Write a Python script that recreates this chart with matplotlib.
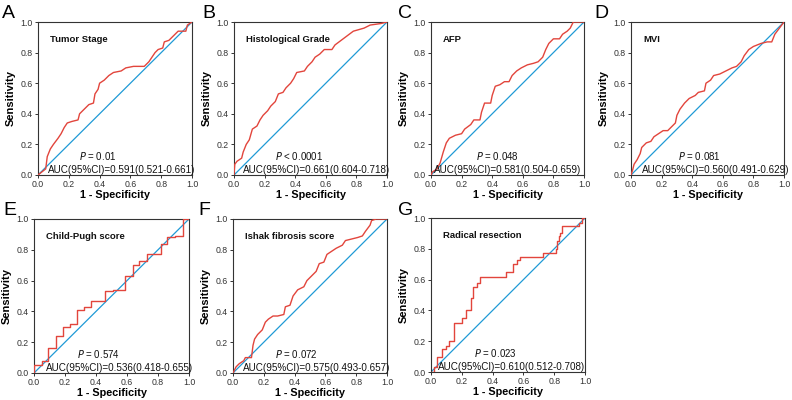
import matplotlib
matplotlib.use("Agg")
import matplotlib.pyplot as plt

plt.rcParams['font.family'] = ['Liberation Sans', 'DejaVu Sans']

letters = ["A", "B", "C", "D", "E", "F", "G"]
titles = ["Tumor Stage", "Histological Grade", "AFP", "MVI",
          "Child-Pugh score", "Ishak fibrosis score", "Radical resection"]
p_texts = ["= 0.01", "< 0.0001", "= 0.048", "= 0.081", "= 0.574", "= 0.072", "= 0.023"]
auc_texts = ["AUC(95%CI)=0.591(0.521-0.661)", "AUC(95%CI)=0.661(0.604-0.718)",
             "AUC(95%CI)=0.581(0.504-0.659)", "AUC(95%CI)=0.560(0.491-0.629)",
             "AUC(95%CI)=0.536(0.418-0.655)", "AUC(95%CI)=0.575(0.493-0.657)",
             "AUC(95%CI)=0.610(0.512-0.708)"]

fpr_A = [0, 0.05, 0.06, 0.08, 0.10, 0.13, 0.15, 0.17, 0.19, 0.22, 0.26, 0.27, 0.30, 0.33, 0.36,
         0.37, 0.39, 0.40, 0.43, 0.46, 0.49, 0.54, 0.57, 0.62, 0.69, 0.72, 0.74, 0.76, 0.78, 0.81,
         0.82, 0.85, 0.88, 0.91, 0.96, 0.97, 1.0]
tpr_A = [0, 0.04, 0.12, 0.17, 0.20, 0.24, 0.27, 0.31, 0.34, 0.35, 0.36, 0.40, 0.43, 0.46, 0.47,
         0.53, 0.56, 0.60, 0.62, 0.65, 0.67, 0.68, 0.70, 0.71, 0.71, 0.74, 0.77, 0.80, 0.82, 0.83,
         0.87, 0.88, 0.91, 0.94, 0.94, 0.98, 1.0]

fpr_B = [0, 0.005, 0.02, 0.05, 0.06, 0.08, 0.10, 0.12, 0.15, 0.17, 0.19, 0.22, 0.24, 0.27, 0.29,
         0.32, 0.34, 0.37, 0.39, 0.41, 0.46, 0.48, 0.51, 0.53, 0.56, 0.59, 0.64, 0.66, 0.70, 0.74,
         0.78, 0.85, 0.89, 0.96, 1.0]
tpr_B = [0, 0.07, 0.09, 0.11, 0.15, 0.20, 0.23, 0.30, 0.32, 0.36, 0.39, 0.42, 0.45, 0.48, 0.53,
         0.54, 0.57, 0.60, 0.63, 0.67, 0.68, 0.71, 0.74, 0.77, 0.79, 0.82, 0.82, 0.85, 0.88, 0.91,
         0.94, 0.96, 0.98, 0.99, 1.0]

fpr_C = [0, 0.01, 0.04, 0.06, 0.08, 0.10, 0.12, 0.16, 0.20, 0.22, 0.26, 0.28, 0.32, 0.33, 0.35,
         0.39, 0.40, 0.42, 0.45, 0.48, 0.51, 0.53, 0.56, 0.59, 0.63, 0.67, 0.70, 0.73, 0.75, 0.77,
         0.80, 0.84, 0.86, 0.89, 0.91, 0.93, 1.0]
tpr_C = [0, 0.02, 0.04, 0.08, 0.15, 0.21, 0.24, 0.26, 0.27, 0.30, 0.33, 0.36, 0.36, 0.41, 0.47,
         0.47, 0.52, 0.58, 0.59, 0.61, 0.61, 0.65, 0.68, 0.70, 0.72, 0.73, 0.74, 0.77, 0.82, 0.86,
         0.89, 0.89, 0.92, 0.94, 0.96, 1.0, 1.0]

fpr_D = [0, 0.01, 0.02, 0.04, 0.06, 0.07, 0.10, 0.13, 0.15, 0.18, 0.21, 0.24, 0.27, 0.29, 0.30,
         0.32, 0.35, 0.38, 0.42, 0.44, 0.48, 0.49, 0.52, 0.54, 0.58, 0.62, 0.66, 0.69, 0.72, 0.74,
         0.77, 0.80, 0.85, 0.89, 0.92, 0.94, 0.97, 1.0]
tpr_D = [0, 0.03, 0.07, 0.10, 0.14, 0.18, 0.21, 0.22, 0.25, 0.27, 0.29, 0.29, 0.32, 0.34, 0.39,
         0.43, 0.47, 0.50, 0.52, 0.54, 0.55, 0.60, 0.62, 0.65, 0.66, 0.68, 0.70, 0.71, 0.74, 0.78,
         0.82, 0.84, 0.86, 0.87, 0.87, 0.92, 0.96, 1.0]

fpr_E = [0, 0, 0.05, 0.09, 0.14, 0.19, 0.23, 0.28, 0.32, 0.37, 0.46, 0.51, 0.59, 0.64, 0.68,
         0.73, 0.82, 0.86, 0.91, 0.96, 1.0]
tpr_E = [0, 0.05, 0.08, 0.16, 0.24, 0.30, 0.32, 0.41, 0.43, 0.47, 0.53, 0.54, 0.63, 0.70, 0.73,
         0.77, 0.84, 0.88, 0.89, 1.0, 1.0]

fpr_F = [0, 0.02, 0.04, 0.07, 0.08, 0.12, 0.13, 0.14, 0.16, 0.19, 0.21, 0.23, 0.26, 0.29, 0.33,
         0.34, 0.37, 0.39, 0.42, 0.46, 0.48, 0.51, 0.54, 0.56, 0.59, 0.61, 0.64, 0.67, 0.71, 0.73,
         0.77, 0.81, 0.84, 0.86, 0.89, 0.90, 0.93, 1.0]
tpr_F = [0, 0.04, 0.06, 0.08, 0.10, 0.10, 0.18, 0.22, 0.25, 0.28, 0.33, 0.35, 0.37, 0.37, 0.38,
         0.43, 0.44, 0.50, 0.54, 0.56, 0.60, 0.63, 0.66, 0.71, 0.72, 0.77, 0.79, 0.81, 0.83, 0.86,
         0.87, 0.88, 0.89, 0.92, 0.96, 0.99, 1.0, 1.0]

fpr_G = [0, 0.02, 0.04, 0.07, 0.10, 0.12, 0.15, 0.20, 0.23, 0.26, 0.27, 0.30, 0.32, 0.49, 0.53,
         0.56, 0.58, 0.73, 0.81, 0.815, 0.83, 0.84, 0.85, 0.96, 0.98, 1.0]
tpr_G = [0, 0.03, 0.10, 0.15, 0.17, 0.20, 0.32, 0.35, 0.40, 0.48, 0.55, 0.58, 0.62, 0.65, 0.70,
         0.73, 0.75, 0.77, 0.80, 0.85, 0.88, 0.90, 0.95, 0.97, 1.0, 1.0]

fprs = [fpr_A, fpr_B, fpr_C, fpr_D, fpr_E, fpr_F, fpr_G]
tprs = [tpr_A, tpr_B, tpr_C, tpr_D, tpr_E, tpr_F, tpr_G]
styles = ["default", "default", "default", "default", "steps-post", "default", "steps-post"]
ticks = [0.0, 0.2, 0.4, 0.6, 0.8, 1.0]
tick_labels = ["0.0", "0.2", "0.4", "0.6", "0.8", "1.0"]

# layout (pixels in a 792x400 figure): left, right, top, bottom
W, H = 792, 400
boxes = [(38, 192, 22, 175), (234, 387, 22, 175), (431, 584, 22, 175), (631, 784, 22, 175),
         (34, 189, 219, 373), (233, 387, 219, 373), (431, 585, 218, 372)]
letter_pos = [(2, 5), (202, 5), (398, 5), (594, 5), (3, 202), (198, 202), (398, 202)]
p_x = [0.265, 0.27, 0.295, 0.31, 0.28, 0.27, 0.277]
auc_x = [0.063, 0.06, 0.017, 0.07, 0.08, 0.067, 0.043]

RED = '#E2453C'
BLUE = '#1F9AD6'

fig = plt.figure(figsize=(W / 100, H / 100), dpi=100)
for i in range(7):
    l, r, t, b = boxes[i]
    ax = fig.add_axes([l / W, 1 - b / H, (r - l) / W, (b - t) / H])
    ax.plot([0, 1], [0, 1], color=BLUE, lw=0.9, zorder=2)
    ax.plot(fprs[i], tprs[i], color=RED, lw=1.0, drawstyle=styles[i], zorder=3)
    ax.set_xlim(0, 1)
    ax.set_ylim(0, 1)
    ax.set_xticks(ticks)
    ax.set_yticks(ticks)
    ax.set_xticklabels(tick_labels)
    ax.set_yticklabels(tick_labels)
    ax.tick_params(direction='out', length=2.5, width=0.7, pad=1.2, labelsize=6.3,
                   colors='#333333', labelcolor='#333333')
    for s in ax.spines.values():
        s.set_linewidth(0.8)
        s.set_color('#333333')
    ax.set_xlabel("1 - Specificity", fontsize=7.8, fontweight='bold', labelpad=0.3)
    ax.set_ylabel("Sensitivity", fontsize=8.0, fontweight='bold', labelpad=3.5)
    ax.text(0.08, 0.885, titles[i], transform=ax.transAxes, fontsize=6.8,
            fontweight='bold', ha='left', va='center', color='#111111')
    ax.text(p_x[i], 0.125, "$\\it{P}$ " + p_texts[i], transform=ax.transAxes,
            fontsize=7.0, ha='left', va='center', color='#111111')
    ax.text(auc_x[i], 0.035, auc_texts[i], transform=ax.transAxes,
            fontsize=7.1, ha='left', va='center', color='#111111')
    fx, fy = letter_pos[i]
    fig.text(fx / W, 1 - fy / H, letters[i], fontsize=14, ha='left', va='top')

fig.savefig("out.png", dpi=100)
